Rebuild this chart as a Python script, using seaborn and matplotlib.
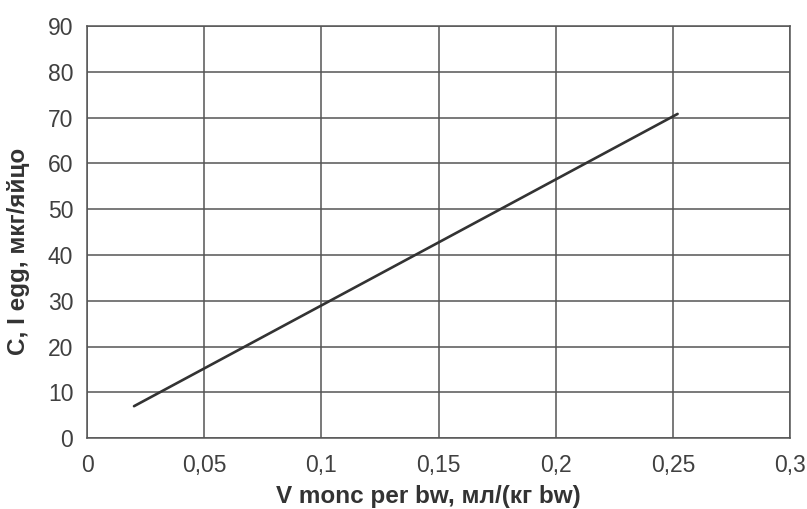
import pandas as pd
import matplotlib
matplotlib.use("Agg")
import matplotlib.pyplot as plt
import matplotlib.ticker as mticker
import seaborn as sns

# данные графика
v_monc = [0.02, 0.252]
c_egg = [7.0, 70.8]
x_ticks = [0, 0.05, 0.1, 0.15, 0.2, 0.25, 0.3]
y_ticks = [0, 10, 20, 30, 40, 50, 60, 70, 80, 90]

df = pd.DataFrame({"v": v_monc, "c": c_egg})

sns.set_theme(style="white")
plt.rcParams['font.family'] = ['Liberation Sans', 'DejaVu Sans']

fig, ax = plt.subplots(figsize=(8.07, 5.09), dpi=100)
fig.subplots_adjust(left=0.108, right=0.979, top=0.949, bottom=0.139)

sns.lineplot(data=df, x="v", y="c", ax=ax, color="#333333", linewidth=1.9)

ax.set_xlim(0, 0.3)
ax.set_ylim(0, 90)
ax.set_xticks(x_ticks)
ax.set_yticks(y_ticks)
ax.xaxis.set_major_formatter(mticker.FuncFormatter(lambda v, p: f"{v:g}".replace('.', ',')))
ax.grid(True, color="#555555", linewidth=1.1)
ax.set_axisbelow(True)
for s in ax.spines.values():
    s.set_color("#555555")
    s.set_linewidth(1.1)

ax.tick_params(axis="both", length=0, labelsize=16.5, labelcolor="#404040")
ax.tick_params(axis="x", pad=11)
ax.tick_params(axis="y", pad=10)

ax.set_xlabel("V monc per bw, мл/(кг bw)", fontsize=17.5, fontweight="bold", color="#333333")
ax.set_ylabel("C, I egg, мкг/яйцо", fontsize=17.5, fontweight="bold", color="#333333")
ax.xaxis.set_label_coords(0.485, -0.113)
ax.yaxis.set_label_coords(-0.082, 0.454)

fig.savefig("out.png", dpi=100)
